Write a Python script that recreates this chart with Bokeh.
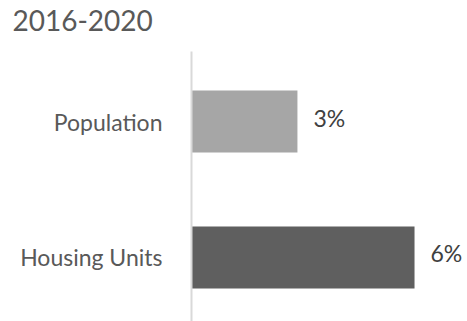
from bokeh.plotting import figure
from bokeh.models import ColumnDataSource, Range1d, FixedTicker, Title
from bokeh.embed import file_html
from bokeh.resources import INLINE
from bokeh.core.properties import value

# Data (bottom to top)
categories = ["Housing Units", "Population"]
values = [6.0, 2.85]
value_labels = ["6%", "3%"]
colors = ["#5f5f5f", "#a6a6a6"]
positions = list(range(len(categories)))

title_text = "2016-2020"
FONT = "Lato"

source = ColumnDataSource(data=dict(
    y=positions, value=values, label=value_labels, color=colors))

p = figure(width=467, height=321, output_backend="svg", toolbar_location=None,
           x_range=Range1d(0, 7.425), y_range=Range1d(-0.471, 1.515),
           x_axis_location=None, min_border_left=191, min_border_right=0,
           min_border_top=51, min_border_bottom=0, title=title_text)

p.hbar(y="y", left=0, right="value", height=0.456, fill_color="color",
       line_color=None, source=source)

p.text(x="value", y="y", text="label", source=source, x_offset=16, y_offset=-4,
       text_baseline="middle", text_align="left", text_font=value(FONT),
       text_font_size="23px", text_color="#404040")

yaxis = p.yaxis[0]
yaxis.ticker = FixedTicker(ticks=positions)
yaxis.major_label_overrides = {i: c for i, c in zip(positions, categories)}
yaxis.axis_line_color = "#d9d9d9"
yaxis.axis_line_width = 2
yaxis.major_tick_line_color = None
yaxis.minor_tick_line_color = None
yaxis.major_tick_out = 0
yaxis.major_tick_in = 0
yaxis.major_label_standoff = 29
yaxis.major_label_text_font = FONT
yaxis.major_label_text_font_size = "23px"
yaxis.major_label_text_color = "#595959"

p.grid.visible = False
p.outline_line_color = None

# spacer between the title and the plot frame
spacer = Title(text=" ", text_font_size="1px", standoff=16)
p.add_layout(spacer, "above")

p.title.text_font = FONT
p.title.text_font_size = "28px"
p.title.text_font_style = "normal"
p.title.text_color = "#595959"
p.title.align = "left"
p.title.vertical_align = "top"
p.title.offset = -179
p.title.standoff = 0

open("out.html", "w").write(file_html(p, INLINE))
